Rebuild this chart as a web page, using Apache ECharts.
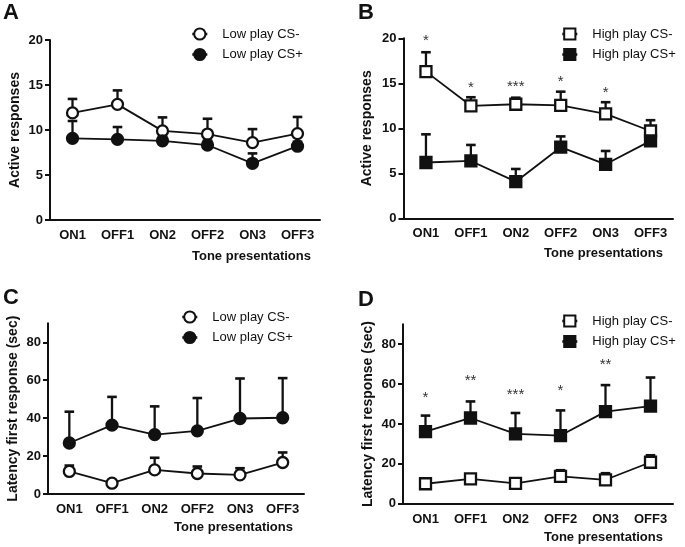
<!DOCTYPE html>
<html><head><meta charset="utf-8">
<script src="https://cdn.jsdelivr.net/npm/echarts@6/dist/echarts.min.js"></script>
<style>html,body{margin:0;padding:0;background:#fff}#c{width:685px;height:547px}</style>
</head><body><div id="c"></div>
<script>
// ---------- data ----------
const categories = ['ON1', 'OFF1', 'ON2', 'OFF2', 'ON3', 'OFF3'];
const activeTicks = [0, 5, 10, 15, 20];
const latencyTicks = [0, 20, 40, 60, 80];

// Panel A: Active responses, low play
const aMinusMean = [11.9, 12.85, 9.9, 9.55, 8.6, 9.6];
const aMinusSem  = [1.55, 1.55, 1.5, 1.7, 1.5, 1.85];
const aPlusMean  = [9.07, 8.96, 8.8, 8.33, 6.3, 8.2];
const aPlusSem   = [1.93, 1.37, 0.5, 0.5, 1.1, 0.5];

// Panel B: Active responses, high play
const bMinusMean = [16.3, 12.5, 12.67, 12.55, 11.6, 9.7];
const bMinusSem  = [2.15, 0.95, 0.73, 1.52, 1.3, 1.2];
const bPlusMean  = [6.2, 6.37, 4.07, 7.9, 6.0, 8.6];
const bPlusSem   = [3.13, 1.78, 1.41, 1.2, 1.48, 0.5];
const bStars     = ['*', '*', '***', '*', '*', ''];
const bStarPos   = [20.2, 14.9, 15.1, 15.6, 14.4, 0];

// Panel C: Latency, low play
const cMinusMean = [11.9, 5.7, 12.7, 10.8, 10.1, 16.6];
const cMinusSem  = [3.1, 0.8, 6.4, 3.7, 3.5, 5.3];
const cPlusMean  = [26.9, 36.3, 31.3, 33.3, 39.8, 40.2];
const cPlusSem   = [16.5, 14.9, 14.9, 17.3, 21.1, 20.9];

// Panel D: Latency, high play
const dMinusMean = [10.0, 12.5, 10.2, 13.7, 12.0, 20.8];
const dMinusSem  = [2.3, 1.0, 1.3, 3.1, 3.3, 3.5];
const dPlusMean  = [36.2, 43.0, 35.0, 34.2, 46.2, 49.0];
const dPlusSem   = [8.0, 8.3, 10.5, 12.6, 13.3, 14.3];
const dStars     = ['*', '**', '***', '*', '**', ''];
const dStarPos   = [55.2, 63.8, 56.5, 58.8, 71.7, 0];

// ---------- styling helpers ----------
const FONT = '"Liberation Sans", Arial, Helvetica, sans-serif';
const INK = '#111';

function errSeries(ax, mean, sem) {
  return {
    type: 'custom', xAxisIndex: ax, yAxisIndex: ax, z: 1, silent: true, animation: false,
    data: mean.map((m, i) => [i, m, m + sem[i]]),
    renderItem: function (params, api) {
      const base = api.coord([api.value(0), api.value(1)]);
      const top = api.coord([api.value(0), api.value(2)]);
      return { type: 'group', children: [
        { type: 'line', shape: { x1: base[0], y1: base[1], x2: top[0], y2: top[1] }, style: { stroke: INK, lineWidth: 2.3 } },
        { type: 'line', shape: { x1: top[0] - 4.8, y1: top[1], x2: top[0] + 4.8, y2: top[1] }, style: { stroke: INK, lineWidth: 2.6 } }
      ]};
    }
  };
}
function lineSeries(ax, name, mean, symbol, fill) {
  return {
    type: 'line', name: name, xAxisIndex: ax, yAxisIndex: ax, z: 3, animation: false,
    data: mean, symbol: symbol, symbolSize: 11,
    itemStyle: { color: fill, borderColor: INK, borderWidth: 2.3 },
    lineStyle: { color: INK, width: 1.8 },
    emphasis: { disabled: true }
  };
}
function starSeries(ax, stars, pos) {
  return {
    type: 'custom', xAxisIndex: ax, yAxisIndex: ax, z: 4, silent: true, animation: false,
    data: pos.map((p, i) => [i, p]),
    renderItem: function (params, api) {
      const t = stars[params.dataIndex];
      if (!t) return null;
      const c = api.coord([api.value(0), api.value(1)]);
      return { type: 'text', x: c[0], y: c[1] + 4,
        style: { text: t, fill: '#333', font: '15px ' + FONT, align: 'center', verticalAlign: 'middle' } };
    }
  };
}
function xAxisCfg(g) {
  return {
    type: 'category', gridIndex: g, data: categories, boundaryGap: true,
    axisLine: { lineStyle: { color: INK, width: 2 } },
    axisTick: { alignWithLabel: true, length: 5, lineStyle: { width: 2, color: INK } },
    axisLabel: { interval: 0, margin: 9, color: INK, fontSize: 13, fontWeight: 'bold', fontFamily: FONT },
    splitLine: { show: false }
  };
}
function yAxisCfg(g, max, interval, ticks, name, gap) {
  return {
    type: 'value', gridIndex: g, min: 0, max: max, interval: interval,
    name: name, nameLocation: 'middle', nameGap: gap,
    nameTextStyle: { color: INK, fontSize: 14, fontWeight: 'bold', fontFamily: FONT },
    axisLine: { show: true, lineStyle: { color: INK, width: 2 } },
    axisTick: { show: true, length: 5, lineStyle: { width: 2, color: INK }, customValues: ticks },
    axisLabel: { color: INK, fontSize: 13, fontWeight: 'bold', fontFamily: FONT, margin: 7, customValues: ticks },
    splitLine: { show: false }
  };
}
function legendCfg(left, top, names) {
  return {
    left: left, top: top, orient: 'vertical', padding: 0, itemGap: 6.5,
    itemWidth: 15, itemHeight: 14, data: names,
    lineStyle: { width: 2.6, color: INK },
    textStyle: { fontSize: 13, color: INK, fontFamily: FONT, lineHeight: 14, padding: [0, 0, 0, 10] },
    selectedMode: false
  };
}
function titleCfg(text, left, top, size) {
  return { text: text, left: left, top: top, padding: 0,
    textStyle: { fontSize: size, fontWeight: 'bold', color: INK, fontFamily: FONT } };
}

const chart = echarts.init(document.getElementById('c'), null, { renderer: 'canvas' });
chart.setOption({
  backgroundColor: '#fff',
  animation: false,
  title: [
    titleCfg('A', 3, 2, 22), titleCfg('B', 358, 2, 22),
    titleCfg('C', 3, 287, 22), titleCfg('D', 358, 289, 22),
    titleCfg('Tone presentations', 192, 250, 13), titleCfg('Tone presentations', 544, 247, 13),
    titleCfg('Tone presentations', 174, 521, 13), titleCfg('Tone presentations', 544, 531, 13)
  ],
  legend: [
    legendCfg(191, 27, ['Low play CS-', 'Low play CS+']),
    legendCfg(561, 27, ['High play CS-', 'High play CS+']),
    legendCfg(181, 310, ['Low play CS-', 'Low play CS+']),
    legendCfg(561, 314, ['High play CS-', 'High play CS+'])
  ],
  grid: [
    { left: 50, top: 40, width: 270, height: 180 },
    { left: 403.5, top: 38.3, width: 269.5, height: 180 },
    { left: 48, top: 323.3, width: 256, height: 170.7 },
    { left: 403, top: 324.3, width: 270, height: 179.4 }
  ],
  xAxis: [xAxisCfg(0), xAxisCfg(1), xAxisCfg(2), xAxisCfg(3)],
  yAxis: [
    yAxisCfg(0, 20, 5, activeTicks, 'Active responses', 28),
    yAxisCfg(1, 20, 5, activeTicks, 'Active responses', 29),
    yAxisCfg(2, 90, 10, latencyTicks, 'Latency first response (sec)', 28),
    yAxisCfg(3, 90, 10, latencyTicks, 'Latency first response (sec)', 28)
  ],
  series: [
    errSeries(0, aMinusMean, aMinusSem), errSeries(0, aPlusMean, aPlusSem),
    lineSeries(0, 'Low play CS-', aMinusMean, 'circle', '#fff'),
    lineSeries(0, 'Low play CS+', aPlusMean, 'circle', INK),

    errSeries(1, bMinusMean, bMinusSem), errSeries(1, bPlusMean, bPlusSem),
    lineSeries(1, 'High play CS-', bMinusMean, 'rect', '#fff'),
    lineSeries(1, 'High play CS+', bPlusMean, 'rect', INK),
    starSeries(1, bStars, bStarPos),

    errSeries(2, cMinusMean, cMinusSem), errSeries(2, cPlusMean, cPlusSem),
    lineSeries(2, 'Low play CS-', cMinusMean, 'circle', '#fff'),
    lineSeries(2, 'Low play CS+', cPlusMean, 'circle', INK),

    errSeries(3, dMinusMean, dMinusSem), errSeries(3, dPlusMean, dPlusSem),
    lineSeries(3, 'High play CS-', dMinusMean, 'rect', '#fff'),
    lineSeries(3, 'High play CS+', dPlusMean, 'rect', INK),
    starSeries(3, dStars, dStarPos)
  ]
});
</script>
</body></html>
